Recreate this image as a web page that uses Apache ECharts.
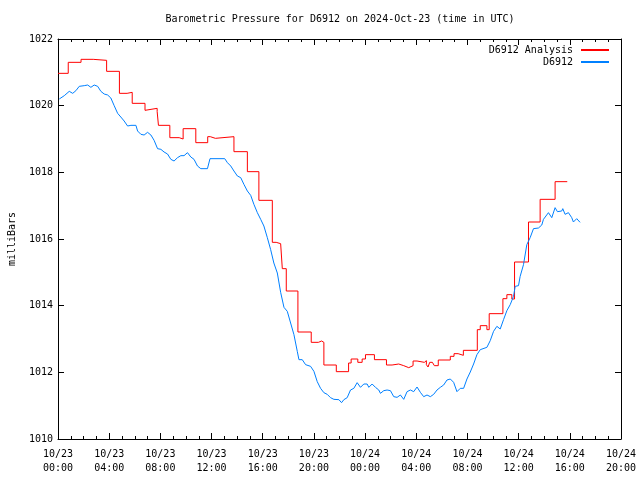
<!DOCTYPE html>
<html>
<head>
<meta charset="utf-8">
<script src="https://cdn.jsdelivr.net/npm/echarts/dist/echarts.min.js"></script>
<style>
html,body{margin:0;padding:0;background:#fff;}
#chart{width:640px;height:480px;}
</style>
</head>
<body>
<div id="chart"></div>
<script>
// Time in hours since 2024-10-23 00:00 UTC
var seriesNames = ['D6912 Analysis', 'D6912'];

var analysisHours = [0, 0.8, 1.8, 2.75, 3.8, 4.8, 5.4, 5.8, 6.8, 6.9, 7.75, 7.85, 8.74, 9.47, 9.78, 10.77, 11.7, 11.9, 12.3, 13.75, 14.8, 15.7, 16.75, 17.05, 17.4, 17.53, 17.84, 18.75, 19.79, 20.35, 20.6, 20.78, 21.75, 22.71, 22.91, 23.43, 23.77, 24.03, 24.73, 25.67, 26.11, 26.63, 27.02, 27.41, 27.75, 28.06, 28.63, 28.79, 28.92, 29.05, 29.26, 29.41, 29.72, 30.66, 30.95, 31.27, 31.68, 32.77, 33.0, 33.52, 33.70, 34.77, 35.08, 35.47, 35.68, 36.77, 37.68, 38.85, 39.8];
var analysisValues = [1020.97, 1021.30, 1021.39, 1021.36, 1021.03, 1020.37, 1020.40, 1020.07, 1019.86, 1019.92, 1019.82, 1019.41, 1019.04, 1019.00, 1019.31, 1018.89, 1019.07, 1019.02, 1019.07, 1018.62, 1018.02, 1017.16, 1015.90, 1015.86, 1015.92, 1015.11, 1014.44, 1013.21, 1012.90, 1012.94, 1012.90, 1012.22, 1012.02, 1012.28, 1012.40, 1012.30, 1012.40, 1012.53, 1012.38, 1012.22, 1012.25, 1012.20, 1012.14, 1012.20, 1012.34, 1012.30, 1012.35, 1012.23, 1012.16, 1012.30, 1012.25, 1012.20, 1012.37, 1012.48, 1012.56, 1012.51, 1012.66, 1013.28, 1013.40, 1013.28, 1013.76, 1014.21, 1014.33, 1014.20, 1015.31, 1016.51, 1017.19, 1017.72, 1017.72];

var obsHours = [0.10, 0.49, 0.88, 1.15, 1.40, 1.66, 2.05, 2.32, 2.57, 2.83, 3.10, 3.35, 3.61, 3.88, 4.13, 4.39, 4.66, 4.91, 5.17, 5.44, 5.70, 6.09, 6.22, 6.48, 6.73, 7.00, 7.26, 7.51, 7.78, 8.04, 8.29, 8.56, 8.82, 9.07, 9.34, 9.60, 9.85, 10.12, 10.38, 10.63, 10.90, 11.16, 11.68, 11.88, 13.03, 13.24, 13.50, 13.75, 14.02, 14.28, 14.53, 14.80, 15.06, 15.31, 15.58, 15.84, 16.09, 16.36, 16.62, 16.87, 17.14, 17.40, 17.66, 17.92, 18.18, 18.44, 18.70, 18.83, 19.09, 19.35, 19.74, 20.00, 20.26, 20.52, 20.78, 21.04, 21.30, 21.56, 21.95, 22.16, 22.34, 22.60, 22.86, 23.12, 23.38, 23.64, 23.90, 24.16, 24.29, 24.55, 24.81, 25.07, 25.20, 25.46, 25.72, 25.98, 26.24, 26.50, 26.76, 27.02, 27.28, 27.54, 27.80, 28.06, 28.32, 28.58, 28.84, 29.10, 29.36, 29.62, 29.88, 30.14, 30.40, 30.66, 30.92, 31.18, 31.44, 31.70, 31.96, 32.22, 32.48, 32.74, 33.00, 33.52, 33.78, 34.04, 34.30, 34.56, 34.82, 35.08, 35.34, 35.60, 35.73, 35.99, 36.12, 36.38, 36.64, 36.90, 37.16, 37.55, 37.81, 37.94, 38.07, 38.33, 38.59, 38.85, 39.03, 39.37, 39.45, 39.63, 39.89, 40.15, 40.28, 40.54, 40.80];
var obsValues = [1020.20, 1020.30, 1020.43, 1020.37, 1020.45, 1020.58, 1020.60, 1020.62, 1020.55, 1020.62, 1020.58, 1020.43, 1020.35, 1020.32, 1020.23, 1020.00, 1019.77, 1019.66, 1019.54, 1019.39, 1019.41, 1019.41, 1019.24, 1019.14, 1019.12, 1019.20, 1019.12, 1018.96, 1018.71, 1018.69, 1018.61, 1018.55, 1018.39, 1018.34, 1018.44, 1018.50, 1018.50, 1018.59, 1018.46, 1018.39, 1018.19, 1018.11, 1018.11, 1018.41, 1018.41, 1018.29, 1018.19, 1018.04, 1017.89, 1017.84, 1017.64, 1017.44, 1017.31, 1017.04, 1016.79, 1016.59, 1016.39, 1016.04, 1015.68, 1015.28, 1014.98, 1014.40, 1013.95, 1013.83, 1013.48, 1013.13, 1012.63, 1012.38, 1012.38, 1012.23, 1012.18, 1012.03, 1011.72, 1011.52, 1011.39, 1011.34, 1011.24, 1011.19, 1011.18, 1011.09, 1011.18, 1011.24, 1011.47, 1011.52, 1011.69, 1011.55, 1011.65, 1011.65, 1011.55, 1011.65, 1011.55, 1011.47, 1011.37, 1011.45, 1011.47, 1011.45, 1011.27, 1011.25, 1011.32, 1011.19, 1011.42, 1011.47, 1011.42, 1011.56, 1011.40, 1011.27, 1011.32, 1011.27, 1011.34, 1011.47, 1011.55, 1011.62, 1011.77, 1011.80, 1011.70, 1011.42, 1011.52, 1011.52, 1011.80, 1012.01, 1012.25, 1012.53, 1012.68, 1012.75, 1012.95, 1013.23, 1013.38, 1013.30, 1013.58, 1013.85, 1014.03, 1014.28, 1014.58, 1014.60, 1014.88, 1015.23, 1015.83, 1016.04, 1016.31, 1016.33, 1016.42, 1016.59, 1016.59, 1016.79, 1016.64, 1016.94, 1016.82, 1016.84, 1016.91, 1016.74, 1016.79, 1016.64, 1016.51, 1016.61, 1016.50];

var dayLabels = ['10/23', '10/24'];
var titleText = 'Barometric Pressure for D6912 on 2024-Oct-23 (time in UTC)';
var yName = 'milliBars';

var FONT = '"DejaVu Sans Mono", "Liberation Mono", monospace';

function zip(a, b) { return a.map(function (v, i) { return [v, b[i]]; }); }
function pad(n) { return (n < 10 ? '0' : '') + n; }
function timeLabel(v) {
  var d = Math.floor(v / 24);
  var h = Math.round(v - d * 24);
  return dayLabels[d] + '\n' + pad(h) + ':00';
}

var chart = echarts.init(document.getElementById('chart'), null, {renderer: 'canvas'});

var baseX = {
  type: 'value', min: 0, max: 44, interval: 4,
  axisLine: {show: true, onZero: false, lineStyle: {color: '#000', width: 1}},
  axisTick: {show: true, inside: true, length: 6, lineStyle: {color: '#000', width: 1}},
  minorTick: {show: true, splitNumber: 4, length: 3, lineStyle: {color: '#000', width: 1}},
  splitLine: {show: false},
  minorSplitLine: {show: false}
};
var baseY = {
  type: 'value', min: 1010, max: 1022, interval: 2,
  axisLine: {show: true, onZero: false, lineStyle: {color: '#000', width: 1}},
  axisTick: {show: true, inside: true, length: 6, lineStyle: {color: '#000', width: 1}},
  splitLine: {show: false}
};

chart.setOption({
  animation: false,
  backgroundColor: '#fff',
  grid: {left: 58, right: 19, top: 39, bottom: 41, containLabel: false, outerBoundsMode: 'none'},
  graphic: [{
    type: 'text', x: 340, y: 19,
    style: {text: titleText, font: '10px ' + FONT, fill: '#000', align: 'center', verticalAlign: 'middle'}
  }],
  legend: {
    orient: 'vertical', right: 30, top: 45, align: 'right', padding: 0,
    itemWidth: 28, itemHeight: 10, itemGap: 2,
    itemStyle: {opacity: 0},
    textStyle: {fontFamily: FONT, fontSize: 10, color: '#000', padding: [0, 3, 0, 0]},
    data: seriesNames
  },
  xAxis: [
    Object.assign({}, baseX, {
      position: 'bottom',
      axisLabel: {show: true, formatter: timeLabel, fontFamily: FONT, fontSize: 10, color: '#000', lineHeight: 14, margin: 8}
    }),
    Object.assign({}, baseX, {position: 'top', axisLabel: {show: false}})
  ],
  yAxis: [
    Object.assign({}, baseY, {
      position: 'left',
      axisLabel: {show: true, formatter: function (v) { return String(v); }, fontFamily: FONT, fontSize: 10, color: '#000', margin: 5},
      name: yName, nameLocation: 'middle', nameRotate: 90, nameGap: 41,
      nameTextStyle: {fontFamily: FONT, fontSize: 10, color: '#000'}
    }),
    Object.assign({}, baseY, {position: 'right', axisLabel: {show: false}})
  ],
  series: [
    {
      name: seriesNames[0], type: 'line', step: 'end', symbol: 'none',
      xAxisIndex: 0, yAxisIndex: 0,
      data: zip(analysisHours, analysisValues),
      itemStyle: {color: '#ff0000'},
      lineStyle: {color: '#ff0000', width: 1}
    },
    {
      name: seriesNames[1], type: 'line', symbol: 'none',
      xAxisIndex: 0, yAxisIndex: 0,
      data: zip(obsHours, obsValues),
      itemStyle: {color: '#0080ff'},
      lineStyle: {color: '#0080ff', width: 1}
    }
  ]
});
</script>
</body>
</html>
